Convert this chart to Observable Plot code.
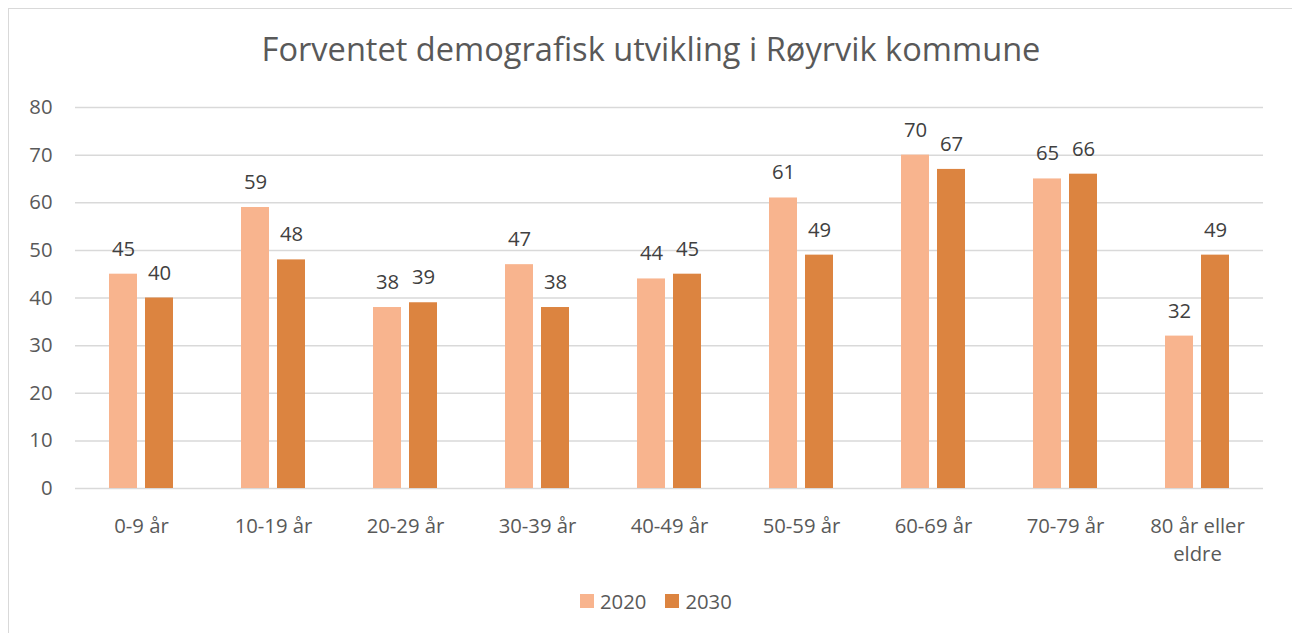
<!DOCTYPE html>
<html>
<head>
<meta charset="utf-8">
<script src="https://cdn.jsdelivr.net/npm/d3@7"></script>
<script src="https://cdn.jsdelivr.net/npm/@observablehq/plot@0.6"></script>
<style>
  html, body { margin: 0; padding: 0; background: #fff; overflow: hidden; }
  body { width: 1292px; height: 633px; position: relative; font-family: "Open Sans", sans-serif; color: #595959; }
  #frame { position: absolute; left: 8px; top: 8px; width: 1300px; height: 640px; border: 1px solid #d9d9d9; box-sizing: border-box; }
  #title { position: absolute; left: 0; top: 24px; width: 1284px; text-align: center; font-size: 32.6px; line-height: 32.6px; white-space: nowrap; }
  #chart { position: absolute; left: 0; top: 71px; }
  #legend { position: absolute; left: 571px; top: 582px; display: flex; align-items: center; font-size: 20.3px; line-height: 20.3px; white-space: nowrap; }
  .item { display: flex; align-items: center; margin-right: 19px; }
  .sw { width: 14px; height: 14px; margin-right: 6px; }
</style>
</head>
<body>
<div id="frame">
  <div id="title"></div>
  <div id="chart"></div>
  <div id="legend"></div>
</div>
<script>
const title = "Forventet demografisk utvikling i Røyrvik kommune";
const categories = ["0-9 år", "10-19 år", "20-29 år", "30-39 år", "40-49 år", "50-59 år", "60-69 år", "70-79 år", "80 år eller\neldre"];
const series = ["2020", "2030"];
const values2020 = [45, 59, 38, 47, 44, 61, 70, 65, 32];
const values2030 = [40, 48, 39, 38, 45, 49, 67, 66, 49];
const colors = ["#F8B48E", "#DC8440"];
const yTicks = [0, 10, 20, 30, 40, 50, 60, 70, 80];

const data = [];
categories.forEach((c, i) => {
  data.push({cat: c, year: series[0], value: values2020[i]});
  data.push({cat: c, year: series[1], value: values2030[i]});
});

document.getElementById("title").textContent = title;

const fs = 20.3;
const chart = Plot.plot({
  width: 1283,
  height: 500,
  marginTop: 27,
  marginBottom: 92,
  marginLeft: 64,
  marginRight: 27,
  style: {fontFamily: "Open Sans, sans-serif", fontSize: fs + "px", color: "#595959", background: "transparent"},
  fx: {domain: categories, padding: 0, label: null},
  x: {domain: series, paddingInner: 0.216, paddingOuter: 0.897, axis: null},
  y: {domain: [0, 80], axis: null},
  color: {domain: series, range: colors},
  marks: [
    Plot.gridY(yTicks, {stroke: "#d9d9d9", strokeOpacity: 1, strokeWidth: 1.5}),
    Plot.axisY(yTicks, {tickSize: 0, tickPadding: 23, label: null, fontSize: fs}),
    Plot.axisFx({anchor: "bottom", tickSize: 0, tickPadding: 25, label: null, lineHeight: 1.38, fontSize: fs}),
    Plot.barY(data, {fx: "cat", x: "year", y: "value", fill: "year"}),
    Plot.text(data, {fx: "cat", x: "year", y: "value", text: d => String(d.value), dy: -25, lineAnchor: "middle", fill: "#404040", fontSize: fs})
  ]
});
document.getElementById("chart").appendChild(chart);

const legend = document.getElementById("legend");
series.forEach((s, i) => {
  const item = document.createElement("div");
  item.className = "item";
  const sw = document.createElement("div");
  sw.className = "sw";
  sw.style.background = colors[i];
  const t = document.createElement("span");
  t.textContent = s;
  item.appendChild(sw);
  item.appendChild(t);
  legend.appendChild(item);
});
</script>
</body>
</html>
